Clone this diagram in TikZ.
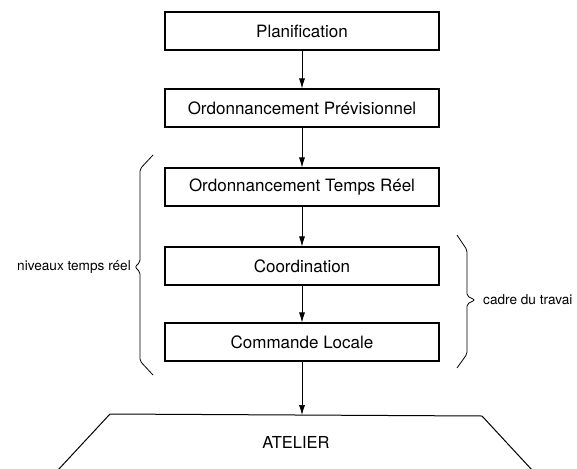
\documentclass[tikz,border=0pt]{standalone}
\usepackage{fontspec}
\setmainfont{TeX Gyre Heros}
\usetikzlibrary{arrows.meta}
\begin{document}
\begin{tikzpicture}[x=1pt,y=-1pt,
  levelbox/.style={draw, line width=1.1pt, minimum width=274pt, minimum height=38pt, inner sep=0pt, font=\fontsize{17}{20}\selectfont},
  flow/.style={line width=0.7pt, -{Latex[length=10pt,width=6pt]}},
  bracepath/.style={line width=0.8pt, rounded corners=2pt},
  sidelabel/.style={font=\fontsize{13.6}{16}\selectfont, inner sep=0pt}]
\useasboundingbox (0,0) rectangle (577,468);
\node[levelbox] (plan) at (302,31) {Planification};
\node[levelbox] (prev) at (302,108) {Ordonnancement Prévisionnel};
\node[levelbox] (otr) at (302,187) {Ordonnancement Temps Réel};
\node[levelbox] (coord) at (302,266) {Coordination};
\node[levelbox] (cmd) at (302,342) {Commande Locale};
% atelier
\coordinate (atl) at (110,414);
\coordinate (atr) at (482,416);
\coordinate (abl) at (58,470);
\coordinate (abr) at (532,470);
\draw[line width=1pt] (abl) -- (atl) -- (atr) -- (abr);
\node[font=\fontsize{16.5}{20}\selectfont] (atelier) at (296,442) {ATELIER};
\coordinate (atin) at (302,415);
\draw[flow] (plan) -- (prev);
\draw[flow] (prev) -- (otr);
\draw[flow] (otr) -- (coord);
\draw[flow] (coord) -- (cmd);
\draw[flow] (cmd) -- (atin);
% left brace
\draw[bracepath] (153,155) -- (140,169) -- (140,262) -- (135,267) -- (140,272) -- (140,361) -- (153,375);
\node[sidelabel, anchor=east] (niv) at (131,267) {niveaux temps réel};
% right brace
\draw[bracepath] (457,235) -- (467,250) -- (467,296) -- (475,300) -- (467,304) -- (467,354) -- (457,368);
\node[sidelabel, anchor=west] (cadre) at (483,300) {cadre du travai};
\end{tikzpicture}
\end{document}
